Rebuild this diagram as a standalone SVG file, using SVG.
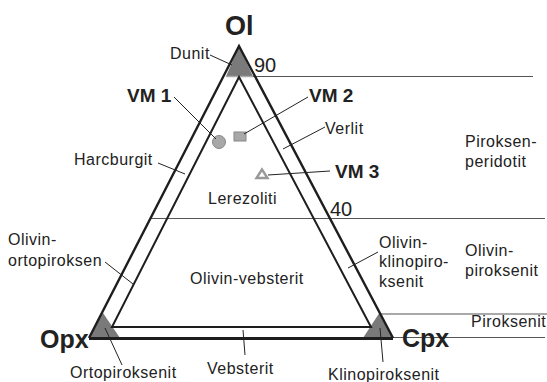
<svg xmlns="http://www.w3.org/2000/svg" width="547" height="382" viewBox="0 0 547 382">
  <style>
    .lbl { font-family: "Liberation Sans", Arial, sans-serif; font-size: 16px; fill: #222; letter-spacing: 0.5px; }
    .num { font-family: "Liberation Sans", Arial, sans-serif; font-size: 20px; fill: #222; }
    .pt { font-family: "Liberation Sans", Arial, sans-serif; font-size: 19px; font-weight: bold; fill: #222; }
    .apex { font-family: "Liberation Sans", Arial, sans-serif; font-weight: bold; fill: #222; }
    .corner { fill: #7a7a7a; }
    .edge { fill: none; stroke: #1e1e1e; stroke-width: 2.4; stroke-linejoin: miter; }
    .inner { fill: none; stroke: #1e1e1e; stroke-width: 2; }
    .grid { stroke: #555; stroke-width: 1.2; }
    .lead { stroke: #222; stroke-width: 1; fill: none; }
    .sample { fill: #a8a8a8; stroke: #888; stroke-width: 1; }
  </style>

  <rect width="547" height="382" fill="#fff"/>

  <!-- ternary frame: corner fields, outer and inner triangles, boundary lines -->
  <g id="frame">
    <polygon class="corner" points="239,46 226,76.5 253,76.5"/>
    <polygon class="corner" points="89,338 120,338 103,313"/>
    <polygon class="corner" points="363,338 393,338 380,312"/>
    <line x1="226" y1="76.5" x2="253" y2="76.5" stroke="#aaa" stroke-width="1.5"/>
    <line class="grid" x1="253" y1="76.5" x2="533" y2="76.5"/>
    <line class="grid" x1="150" y1="218.5" x2="545" y2="218.5"/>
    <line class="grid" x1="381" y1="314" x2="547" y2="314"/>
    <line class="grid" x1="393" y1="337.5" x2="545" y2="337.5"/>
    <polyline class="edge" points="89,338 239,46 393,338"/>
    <line x1="89" y1="338.5" x2="393" y2="338.5" stroke="#1e1e1e" stroke-width="3"/>
    <polygon class="inner" points="239,77 112,327 371,327"/>
  </g>

  <!-- apex labels and scale values -->
  <g id="node-ol"><text class="apex" x="225" y="35" font-size="27">Ol</text></g>
  <g id="node-opx"><text class="apex" x="40" y="348" font-size="25">Opx</text></g>
  <g id="node-cpx"><text class="apex" x="402" y="347" font-size="25">Cpx</text></g>
  <g id="tick-90"><text class="num" x="254" y="72">90</text></g>
  <g id="tick-40"><text class="num" x="330" y="216">40</text></g>

  <!-- sample points -->
  <g id="node-vm1">
    <circle class="sample" cx="219" cy="142" r="6.5"/>
    <text class="pt" x="127" y="102">VM 1</text>
  </g>
  <g id="node-vm2">
    <rect class="sample" x="234" y="132" width="12" height="9"/>
    <text class="pt" x="309" y="102">VM 2</text>
  </g>
  <g id="node-vm3">
    <polygon points="262,169.5 256.5,178 267.5,178" fill="#fff" stroke="#999" stroke-width="2.4"/>
    <text class="pt" x="335" y="178">VM 3</text>
  </g>

  <!-- rock field names -->
  <g id="node-dunit"><text class="lbl" x="170" y="59">Dunit</text></g>
  <g id="node-verlit"><text class="lbl" x="325" y="134">Verlit</text></g>
  <g id="node-harzburgit"><text class="lbl" x="74" y="165">Harcburgit</text></g>
  <g id="node-lerzolit"><text class="lbl" x="208" y="204" letter-spacing="0.8">Lerezoliti</text></g>
  <g id="node-pyroxene-peridotite">
    <text class="lbl" x="465" y="147">Piroksen-</text>
    <text class="lbl" x="465" y="167">peridotit</text>
  </g>
  <g id="node-ol-websterite"><text class="lbl" x="190" y="284">Olivin-vebsterit</text></g>
  <g id="node-ol-orthopyroxenite">
    <text class="lbl" x="8" y="245">Olivin-</text>
    <text class="lbl" x="8" y="266">ortopiroksen</text>
  </g>
  <g id="node-ol-clinopyroxenite">
    <text class="lbl" x="379" y="248">Olivin-</text>
    <text class="lbl" x="379" y="267">klinopiro-</text>
    <text class="lbl" x="379" y="287">ksenit</text>
  </g>
  <g id="node-ol-pyroxenite">
    <text class="lbl" x="465" y="256">Olivin-</text>
    <text class="lbl" x="465" y="276">piroksenit</text>
  </g>
  <g id="node-pyroxenite"><text class="lbl" x="471" y="327">Piroksenit</text></g>
  <g id="node-orthopyroxenite"><text class="lbl" x="70" y="378">Ortopiroksenit</text></g>
  <g id="node-websterite"><text class="lbl" x="207" y="374">Vebsterit</text></g>
  <g id="node-clinopyroxenite"><text class="lbl" x="328" y="380">Klinopiroksenit</text></g>

  <!-- leader lines from labels to fields and points -->
  <g id="connectors">
    <line class="lead" x1="210" y1="55" x2="232" y2="65"/>
    <line class="lead" x1="174" y1="97" x2="216" y2="139"/>
    <line class="lead" x1="244" y1="134" x2="308" y2="97"/>
    <line class="lead" x1="283" y1="149" x2="325" y2="127"/>
    <line class="lead" x1="268" y1="175" x2="330" y2="171"/>
    <line class="lead" x1="158" y1="163" x2="185" y2="174"/>
    <line class="lead" x1="105" y1="262" x2="133" y2="284"/>
    <line class="lead" x1="348" y1="268" x2="378" y2="252"/>
    <line class="lead" x1="105" y1="328" x2="122" y2="365"/>
    <line class="lead" x1="243" y1="330" x2="245" y2="355"/>
    <line class="lead" x1="380" y1="328" x2="383" y2="362"/>
  </g>
</svg>
